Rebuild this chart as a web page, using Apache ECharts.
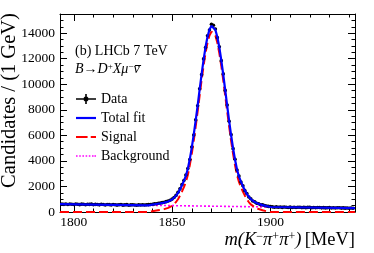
<!DOCTYPE html>
<html><head><meta charset="utf-8">
<script src="https://cdn.jsdelivr.net/npm/echarts@6/dist/echarts.min.js"></script>
<style>html,body{margin:0;padding:0;background:#fff}#c{width:374px;height:253px}</style>
</head><body><div id="c"></div>
<script>
// ---- data ----
const xMin = 1793, xMax = 1943;
const dataStart = 1794; // first bin centre, 1 MeV bins
const dataCounts = [
632,598,625,590,631,612,584,621,608,577,
615,603,571,609,596,620,565,597,588,560,
601,584,552,590,579,548,586,572,541,570,
583,538,561,575,530,556,571,548,526,560,
549,572,553,566,581,590,612,634,648,682,
705,731,768,812,866,925,1010,1132,1301,1538,
1812,2141,2467,2890,3405,4101,5092,6018,7213,8320,
9642,10751,11984,12870,13802,14251,14690,14610,14330,13650,
12940,11850,10812,9520,8370,7098,6054,4960,4130,3290,
2810,2341,2050,1672,1440,1176,1035,862,795,684,
651,570,558,512,470,438,421,402,376,399,
371,394,362,388,369,354,381,357,372,349,
366,375,343,362,340,359,367,335,352,329,
348,357,326,341,320,338,345,317,330,312,
327,334,306,322,300,318,296,311,293
];
const peakStart = 1839; // fit curves sampled every 1 MeV in the peak window
const totalFitPeak = [
552,580,603,626,649,671,699,732,770,823,891,978,1096,1274,1492,1770,2088,2436,2834,3381,
4143,5037,6052,7170,8354,9579,10786,11915,12911,13714,14279,14569,14567,14272,13703,12896,
11896,10763,9551,8322,7133,6011,4992,4094,3328,2776,2374,2022,1699,1417,1195,1013,881,779,
697,634,582,540,498,456,424
];
const signalPeak = [
30,60,85,110,135,160,190,225,265,320,390,480,600,780,1000,1280,1600,1950,2350,2900,
3664,4560,5577,6697,7883,9110,10320,11451,12449,13254,13821,14113,14113,13821,13254,12449,
11451,10320,9110,7883,6697,5577,4560,3664,2900,2350,1950,1600,1280,1000,780,600,470,370,
290,230,180,140,100,60,30
];
const totalFitLow = [[1793,620],[1838,524]];
const totalFitHigh = [[1900,392],[1943,300]];
const signalLow = [[1793,0],[1838,0]];
const signalHigh = [[1900,0],[1943,0]];
const backgroundLine = [[1793,620],[1943,300]];
const xMajor = [1800,1850,1900];
const xMinor = [1810,1820,1830,1840,1860,1870,1880,1890,1910,1920,1930,1940];
const yMajor = [0,2000,4000,6000,8000,10000,12000,14000];
const yMinor = [500,1000,1500,2500,3000,3500,4500,5000,5500,6500,7000,7500,8500,9000,9500,10500,11000,11500,12500,13000,13500,14500,15000];
const yMax = 15500;

// ---- build series data ----
const dataPts = dataCounts.map((v,i)=>[dataStart+i, v]);
const totalPts = totalFitLow.concat(totalFitPeak.map((v,i)=>[peakStart+i, v]), totalFitHigh);
const signalPts = signalLow.concat(signalPeak.map((v,i)=>[peakStart+i, v]), signalHigh);

const FONT = "'Liberation Serif', 'Times New Roman', serif";
const black = '#000';

function xAx(pos, ticks, len, showLine, labels){
  return {type:'value', min:xMin, max:xMax, position:pos, gridIndex:0,
    axisLine:{show:showLine, onZero:false, lineStyle:{color:black, width:1}},
    axisTick:{show:true, inside:true, length:len, customValues:ticks, lineStyle:{color:black, width:1}},
    axisLabel:{show:!!labels, customValues: labels||ticks, margin:3, color:black, fontFamily:FONT, fontSize:13.5, formatter:v=>String(v)},
    splitLine:{show:false}};
}
function yAx(pos, ticks, len, showLine, labels){
  return {type:'value', min:0, max:yMax, position:pos, gridIndex:0,
    axisLine:{show:showLine, onZero:false, lineStyle:{color:black, width:1}},
    axisTick:{show:true, inside:true, length:len, customValues:ticks, lineStyle:{color:black, width:1}},
    axisLabel:{show:!!labels, customValues: labels||ticks, margin:5, color:black, fontFamily:FONT, fontSize:13.5, formatter:v=>String(v)},
    splitLine:{show:false}};
}

// measure the decay label so the anti-neutrino bar sits over the nu
const ctx = document.createElement('canvas').getContext('2d');
function w(txt, font){ ctx.font = font; return ctx.measureText(txt).width; }
const IT = "italic 14px " + FONT, RM = "14px " + FONT, SUP = "9px " + FONT;
const decayX = 75;
const preNu = w('B',IT)+w('→',RM)+w('D',IT)+w('+',SUP)+w('X',IT)+w('μ',IT)+w('−',SUP);
const nuW = w('ν',IT);
const barX0 = decayX + preNu + 1.5, barX1 = decayX + preNu + nuW + 1.5;

const chart = echarts.init(document.getElementById('c'), null, {renderer:'canvas'});
chart.setOption({
  animation:false,
  backgroundColor:'#fff',
  grid:{left:60, right:19, top:14, bottom:41, containLabel:false},
  xAxis:[
    xAx('bottom', xMajor, 7, true, xMajor),
    xAx('bottom', xMinor, 3.5, false),
    xAx('top', xMajor, 7, true),
    xAx('top', xMinor, 3.5, false)
  ],
  yAxis:[
    yAx('left', yMajor, 7, true, yMajor),
    yAx('left', yMinor, 3.5, false),
    yAx('right', yMajor, 7, true),
    yAx('right', yMinor, 3.5, false)
  ],
  legend:{
    orient:'vertical', left:76, top:92, padding:0, itemGap:5,
    itemWidth:20, itemHeight:10, symbolKeepAspect:true,
    textStyle:{fontFamily:FONT, fontSize:14, color:black},
    data:[
      {name:'Data', icon:'path://M0,4.2L20,4.2L20,5.8L0,5.8Z M9.2,0L10.8,0L10.8,10L9.2,10Z M8.6,2.8L11.4,2.8L12.3,3.8L12.3,6.2L11.4,7.2L8.6,7.2L7.7,6.2L7.7,3.8Z',
       itemStyle:{color:'#000', opacity:1}},
      {name:'Total fit', icon:'path://M0,0L20,0L20,2.2L0,2.2Z'},
      {name:'Signal', icon:'path://M0,0L11,0L11,2L0,2Z M14,0L19,0L19,2L14,2Z'},
      {name:'Background', icon:'path://M0,0L1.6,0L1.6,1.6L0,1.6Z M3.2,0L4.8,0L4.8,1.6L3.2,1.6Z M6.4,0L8,0L8,1.6L6.4,1.6Z M9.6,0L11.2,0L11.2,1.6L9.6,1.6Z M12.8,0L14.4,0L14.4,1.6L12.8,1.6Z M16,0L17.6,0L17.6,1.6L16,1.6Z M18.4,0L20,0L20,1.6L18.4,1.6Z'}
    ]
  },
  series:[
    {name:'Background', type:'line', data:backgroundLine, symbol:'none', z:2,
     lineStyle:{color:'#ff00ff', width:1.6, type:[2,2]}, itemStyle:{color:'#ff00ff'}},
    {name:'Signal', type:'line', data:signalPts, symbol:'none', z:3, clip:false,
     lineStyle:{color:'#ff0000', width:2, type:[9,4]}, itemStyle:{color:'#ff0000'}},
    {name:'Data', type:'scatter', data:dataPts, symbol:'circle', symbolSize:3.6, z:4,
     itemStyle:{color:'#000', opacity:1}},
    {name:'Total fit', type:'line', data:totalPts, symbol:'none', z:5, smooth:false,
     lineStyle:{color:'#0000ff', width:2.2}, itemStyle:{color:'#0000ff'}}
  ],
  graphic:[
    {type:'text', left:75, top:44, style:{text:'(b) LHCb 7 TeV', font:"14px "+FONT, fill:black}},
    {type:'text', left:decayX, top:62, style:{
      text:'{i|B}{n|→}{i|D}{s|+}{i|X}{i|μ}{s|−}{i|ν}',
      rich:{
        i:{fontFamily:FONT, fontSize:14, fontStyle:'italic', fill:black},
        n:{fontFamily:FONT, fontSize:14, fill:black},
        s:{fontFamily:FONT, fontSize:9, fill:black, verticalAlign:'top', padding:[0,0,6,0]}
      }}},
    {type:'line', shape:{x1:barX0, y1:65.5, x2:barX1, y2:65.5}, style:{stroke:black, lineWidth:1}},
    {type:'text', x:9.5, y:100.5, rotation:Math.PI/2, style:{
      text:'Candidates / (1 GeV)', font:"20.5px "+FONT, fill:black, align:'center', verticalAlign:'middle'}},
    {type:'text', x:355, y:240, style:{
      text:'{i|m(K}{s|−}{i|π}{s|+}{i|π}{s|+}{i|)} {n|[MeV]}',
      align:'right', verticalAlign:'middle',
      rich:{
        i:{fontFamily:FONT, fontSize:18.5, fontStyle:'italic', fill:black},
        n:{fontFamily:FONT, fontSize:18.5, fill:black},
        s:{fontFamily:FONT, fontSize:12, fill:black, verticalAlign:'top', padding:[0,0,7,0]}
      }}}
  ]
});
</script></body></html>
